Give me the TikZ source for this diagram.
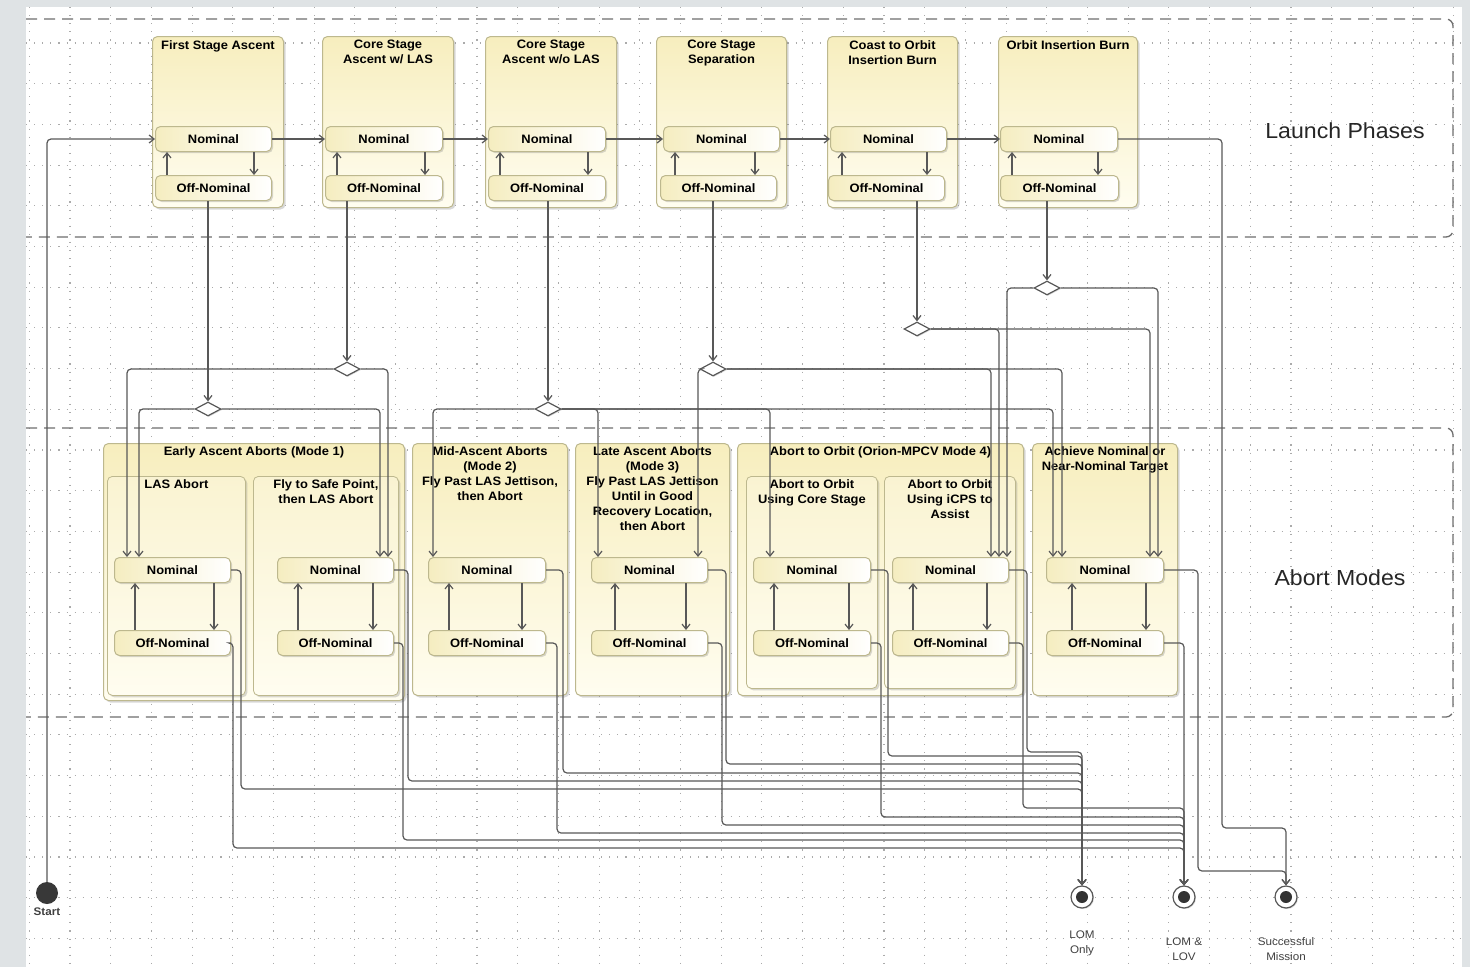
\documentclass[tikz,border=0pt]{standalone}
\usepackage{fontspec}
\setmainfont{Liberation Sans}[FakeStretch=1.06]
\usetikzlibrary{positioning,shapes.geometric,arrows.meta,shadows}

\definecolor{pagegray}{HTML}{DFE3E5}
\definecolor{griddot}{HTML}{ABABAB}
\definecolor{lanegray}{HTML}{6E6E6E}
\definecolor{wiregray}{HTML}{585858}
\definecolor{boxedge}{HTML}{BDB88E}
\definecolor{boxtop}{HTML}{F7EEBE}
\definecolor{boxbot}{HTML}{FFFDF0}
\definecolor{nomleft}{HTML}{F5EDC0}

\tikzset{
  phase/.style={rectangle, rounded corners=5, draw=boxedge, line width=1, top color=boxtop, bottom color=boxbot, anchor=north west, inner sep=0, drop shadow={opacity=.3, shadow xshift=2pt, shadow yshift=-2pt}},
  modebox/.style={phase},
  subbox/.style={phase, line width=.8, top color=boxtop!70!white, bottom color=boxbot},
  state box/.style={rectangle, rounded corners=5, draw=boxedge, line width=1, left color=nomleft, right color=white, anchor=north west, minimum height=25, inner sep=0, font=\bfseries\fontsize{12.2}{15}\selectfont, drop shadow={opacity=.3, shadow xshift=1.5pt, shadow yshift=-1.5pt}},
  title/.style={font=\bfseries\fontsize{12.2}{15}\selectfont, align=center, inner sep=0, anchor=north},
  choice/.style={diamond, draw=wiregray, line width=1.2, fill=white, minimum width=26, minimum height=14, inner sep=0, drop shadow={opacity=.3, shadow xshift=1pt, shadow yshift=-1pt}},
  final/.style={circle, draw=wiregray, line width=1.2, fill=white, minimum size=22, inner sep=0, path picture={\fill[black!80] (path picture bounding box.center) circle (6pt);}, drop shadow={opacity=.3, shadow xshift=1pt, shadow yshift=-1pt}},
  endlbl/.style={font=\fontsize{11}{15}\selectfont, text=black!75, align=center, inner sep=0},
  lanelbl/.style={font=\fontsize{21.8}{24}\selectfont, text=black!85, inner sep=0},
  wire/.style={draw=wiregray, line width=1.2, rounded corners=4},
  arr/.style={wire, ->},
  lane/.style={draw=lanegray, line width=1.3, dash pattern=on 11pt off 7pt, rounded corners=7},
  gridline/.style={draw=griddot, line width=1.1, dash pattern=on 1.1pt off 7pt}
}

\begin{document}
\begin{tikzpicture}[x=1pt, y=-1pt, >={Straight Barb[length=5pt, width=8pt]}, font=\fontsize{12.2}{15}\selectfont]

\useasboundingbox (0,0) rectangle (1470,967);
\fill[pagegray] (0,0) rectangle (1470,967);
\fill[white] (26,7) rectangle (1462,967);

% dotted grid
\foreach \gx in {0,...,35}
  \draw[gridline] ({29.3+40.7*\gx},7) -- ({29.3+40.7*\gx},967);
\foreach \gy in {1,...,23}
  \draw[gridline] (26,{2.3+40.7*\gy}) -- (1462,{2.3+40.7*\gy});

% swimlanes
\draw[lane] (26,19) -- (1453,19) -- (1453,237) -- (26,237);
\draw[lane] (26,428) -- (1453,428) -- (1453,717) -- (26,717);
\node[lanelbl] (lp) at (1345,131) {Launch Phases};
\node[lanelbl] (am) at (1340,578) {Abort Modes};

% launch phases
\node[phase, minimum width=131, minimum height=171] (p1) at (152,36) {};
\node[phase, minimum width=131, minimum height=171] (p2) at (322,36) {};
\node[phase, minimum width=131, minimum height=171] (p3) at (485,36) {};
\node[phase, minimum width=130, minimum height=171] (p4) at (656,36) {};
\node[phase, minimum width=130, minimum height=171] (p5) at (827,36) {};
\node[phase, minimum width=139, minimum height=171] (p6) at (998,36) {};

\node[title, below=4pt of p1.north] (t1) {First Stage Ascent};
\node[title, below=4pt of p2.north] (t2) {Core Stage\\Ascent w/ LAS};
\node[title, below=4pt of p3.north] (t3) {Core Stage\\Ascent w/o LAS};
\node[title, below=4pt of p4.north] (t4) {Core Stage\\Separation};
\node[title, below=4pt of p5.north] (t5) {Coast to Orbit\\Insertion Burn};
\node[title, below=4pt of p6.north] (t6) {Orbit Insertion Burn};

\node[state box, minimum width=116] (n1) at (155,126) {Nominal};
\node[state box, minimum width=117] (n2) at (325,126) {Nominal};
\node[state box, minimum width=117] (n3) at (488,126) {Nominal};
\node[state box, minimum width=116] (n4) at (663,126) {Nominal};
\node[state box, minimum width=116] (n5) at (830,126) {Nominal};
\node[state box, minimum width=117] (n6) at (1000,126) {Nominal};

\node[state box, minimum width=116] (o1) at (155,175) {Off-Nominal};
\node[state box, minimum width=117] (o2) at (325,175) {Off-Nominal};
\node[state box, minimum width=117] (o3) at (488,175) {Off-Nominal};
\node[state box, minimum width=116] (o4) at (660,175) {Off-Nominal};
\node[state box, minimum width=116] (o5) at (828,175) {Off-Nominal};
\node[state box, minimum width=118] (o6) at (1000,175) {Off-Nominal};

% abort modes
\node[modebox, minimum width=301, minimum height=257] (m1) at (103,443) {};
\node[subbox, minimum width=138, minimum height=219] (m1a) at (107,476) {};
\node[subbox, minimum width=145, minimum height=219] (m1b) at (253,476) {};
\node[modebox, minimum width=155, minimum height=252] (m2) at (412,443) {};
\node[modebox, minimum width=154, minimum height=252] (m3) at (575,443) {};
\node[modebox, minimum width=286, minimum height=252] (m4) at (737,443) {};
\node[subbox, minimum width=131, minimum height=212] (m4a) at (746,476) {};
\node[subbox, minimum width=131, minimum height=212] (m4b) at (884,476) {};
\node[modebox, minimum width=145, minimum height=252] (m5) at (1032,443) {};

\node[title, below=3pt of m1.north] (tm1) {Early Ascent Aborts (Mode 1)};
\node[title, below=3pt of m1a.north] (tm1a) {LAS Abort};
\node[title, below=3pt of m1b.north] (tm1b) {Fly to Safe Point,\\then LAS Abort};
\node[title, below=3pt of m2.north] (tm2) {Mid-Ascent Aborts\\(Mode 2)\\Fly Past LAS Jettison,\\then Abort};
\node[title, below=3pt of m3.north] (tm3) {Late Ascent Aborts\\(Mode 3)\\Fly Past LAS Jettison\\Until in Good\\Recovery Location,\\then Abort};
\node[title, below=3pt of m4.north] (tm4) {Abort to Orbit (Orion-MPCV Mode 4)};
\node[title, below=3pt of m4a.north] (tm4a) {Abort to Orbit\\Using Core Stage};
\node[title, below=3pt of m4b.north] (tm4b) {Abort to Orbit\\Using iCPS to\\Assist};
\node[title, below=3pt of m5.north] (tm5) {Achieve Nominal or\\Near-Nominal Target};

\node[state box, minimum width=116] (an1) at (114,557) {Nominal};
\node[state box, minimum width=116] (an2) at (277,557) {Nominal};
\node[state box, minimum width=117] (an3) at (428,557) {Nominal};
\node[state box, minimum width=116] (an4) at (591,557) {Nominal};
\node[state box, minimum width=117] (an5) at (753,557) {Nominal};
\node[state box, minimum width=116] (an6) at (892,557) {Nominal};
\node[state box, minimum width=117] (an7) at (1046,557) {Nominal};

\node[state box, minimum width=116] (ao1) at (114,630) {Off-Nominal};
\node[state box, minimum width=116] (ao2) at (277,630) {Off-Nominal};
\node[state box, minimum width=117] (ao3) at (428,630) {Off-Nominal};
\node[state box, minimum width=116] (ao4) at (591,630) {Off-Nominal};
\node[state box, minimum width=117] (ao5) at (753,630) {Off-Nominal};
\node[state box, minimum width=116] (ao6) at (892,630) {Off-Nominal};
\node[state box, minimum width=117] (ao7) at (1046,630) {Off-Nominal};

% decisions
\node[choice] (d1) at (208,409) {};
\node[choice] (d2) at (347,369) {};
\node[choice] (d3) at (548,409) {};
\node[choice] (d4) at (713,369) {};
\node[choice] (d5) at (917,329) {};
\node[choice] (d6) at (1047,288) {};

% start and end
\node[circle, fill=black!78, minimum size=22, inner sep=0] (start) at (47,893) {};
\node[endlbl, font=\bfseries\fontsize{11}{15}\selectfont, below=3pt of start] (startlbl) {Start};
\node[final] (lom) at (1082,897) {};
\node[final] (lov) at (1184,897) {};
\node[final] (succ) at (1286,897) {};
\node[endlbl, below=22pt of lom] (lomlbl) {LOM\\Only};
\node[endlbl, below=29pt of lov] (lovlbl) {LOM \&\\LOV};
\node[endlbl, below=29pt of succ] (succlbl) {Successful\\Mission};

% phase chain
\draw[arr] (start) |- (n1.west);
\draw[arr] (n1) -- (n2);
\draw[arr] (n2) -- (n3);
\draw[arr] (n3) -- (n4);
\draw[arr] (n4) -- (n5);
\draw[arr] (n5) -- (n6);
\draw[arr] (n6.east) -| (1222,828) -| (succ.north);

% nominal <-> off-nominal
\draw[arr] ([xshift=12]o1.north west) -- ([xshift=12]n1.south west);
\draw[arr] ([xshift=12]o2.north west) -- ([xshift=12]n2.south west);
\draw[arr] ([xshift=12]o3.north west) -- ([xshift=12]n3.south west);
\draw[arr] ([xshift=15]o4.north west) -- ([xshift=12]n4.south west);
\draw[arr] ([xshift=14]o5.north west) -- ([xshift=12]n5.south west);
\draw[arr] ([xshift=12]o6.north west) -- ([xshift=12]n6.south west);
\draw[arr] ([xshift=-18]n1.south east) -- ([xshift=-18]o1.north east);
\draw[arr] ([xshift=-18]n2.south east) -- ([xshift=-18]o2.north east);
\draw[arr] ([xshift=-18]n3.south east) -- ([xshift=-18]o3.north east);
\draw[arr] ([xshift=-25]n4.south east) -- ([xshift=-22]o4.north east);
\draw[arr] ([xshift=-20]n5.south east) -- ([xshift=-18]o5.north east);
\draw[arr] ([xshift=-20]n6.south east) -- ([xshift=-21]o6.north east);

\draw[arr] ([xshift=21]ao1.north west) -- ([xshift=21]an1.south west);
\draw[arr] ([xshift=21]ao2.north west) -- ([xshift=21]an2.south west);
\draw[arr] ([xshift=21]ao3.north west) -- ([xshift=21]an3.south west);
\draw[arr] ([xshift=24]ao4.north west) -- ([xshift=24]an4.south west);
\draw[arr] ([xshift=21]ao5.north west) -- ([xshift=21]an5.south west);
\draw[arr] ([xshift=21]ao6.north west) -- ([xshift=21]an6.south west);
\draw[arr] ([xshift=26]ao7.north west) -- ([xshift=26]an7.south west);
\draw[arr] ([xshift=-17]an1.south east) -- ([xshift=-17]ao1.north east);
\draw[arr] ([xshift=-21]an2.south east) -- ([xshift=-21]ao2.north east);
\draw[arr] ([xshift=-24]an3.south east) -- ([xshift=-24]ao3.north east);
\draw[arr] ([xshift=-22]an4.south east) -- ([xshift=-22]ao4.north east);
\draw[arr] ([xshift=-22]an5.south east) -- ([xshift=-22]ao5.north east);
\draw[arr] ([xshift=-22]an6.south east) -- ([xshift=-22]ao6.north east);
\draw[arr] ([xshift=-18]an7.south east) -- ([xshift=-18]ao7.north east);

% off-nominal phases to decisions
\draw[arr] (o1.south -| d1) -- (d1.north);
\draw[arr] (o2.south -| d2) -- (d2.north);
\draw[arr] (o3.south -| d3) -- (d3.north);
\draw[arr] (o4.south -| d4) -- (d4.north);
\draw[arr] (o5.south -| d5) -- (d5.north);
\draw[arr] (o6.south -| d6) -- (d6.north);

% decisions to abort modes
\draw[arr] (d1.west) -| ([xshift=25]an1.north west);
\draw[arr] (d1.east) -| ([xshift=-14]an2.north east);
\draw[arr] (d2.west) -| ([xshift=13]an1.north west);
\draw[arr] (d2.east) -| ([xshift=-6]an2.north east);
\draw[arr] (d3.west) -| ([xshift=5]an3.north west);
\draw[arr] (d3.east) -| ([xshift=7]an4.north west);
\draw[arr] (d3.east) -| ([xshift=17]an5.north west);
\draw[arr] (d3.east) -| ([xshift=7]an7.north west);
\draw[arr] (d4.west) -| ([xshift=-10]an4.north east);
\draw[arr] (d4.east) -| ([xshift=-18]an6.north east);
\draw[arr] (d4.east) -| ([xshift=16]an7.north west);
\draw[arr] (d5.east) -| ([xshift=-10]an6.north east);
\draw[arr] (d5.east) -| ([xshift=-14]an7.north east);
\draw[arr] (d6.west) -| ([xshift=-2]an6.north east);
\draw[arr] (d6.east) -| ([xshift=-6]an7.north east);

% outcomes
\draw[arr] (an1.east) -| (241,789) -| (lom.north);
\draw[arr] (an2.east) -| (408,781) -| (lom.north);
\draw[arr] (an3.east) -| (563,773) -| (lom.north);
\draw[arr] (an4.east) -| (726,764) -| (lom.north);
\draw[arr] (an5.east) -| (888,756) -| (lom.north);
\draw[arr] (an6.east) -| (1027,752) -| (lom.north);
\draw[arr] (ao1.east) -| (233,848) -| (lov.north);
\draw[arr] (ao2.east) -| (403,840) -| (lov.north);
\draw[arr] (ao3.east) -| (557,833) -| (lov.north);
\draw[arr] (ao4.east) -| (722,825) -| (lov.north);
\draw[arr] (ao5.east) -| (881,817) -| (lov.north);
\draw[arr] (ao6.east) -| (1023,808) -| (lov.north);
\draw[arr] (ao7.east) -| (lov.north);
\draw[arr] (an7.east) -| (1198,871) -| (succ.north);

\end{tikzpicture}
\end{document}
